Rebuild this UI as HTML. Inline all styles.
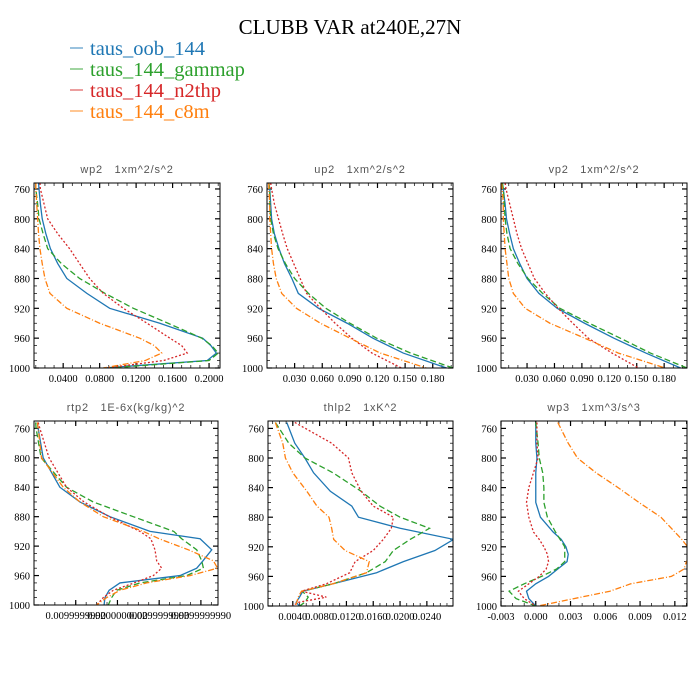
<!DOCTYPE html>
<html><head><meta charset="utf-8"><style>
body{margin:0;background:#fff;}
svg{display:block;}
.pt{white-space:pre;}
</style></head><body>
<svg id="chart" width="700" height="700" viewBox="0 0 700 700" xmlns="http://www.w3.org/2000/svg">
<text x="350" y="34" text-anchor="middle" font-family="Liberation Serif, serif" font-size="21" fill="#000">CLUBB VAR at240E,27N</text>
<g font-family="Liberation Serif, serif" font-size="20.5">
 <g><line x1="70" y1="48" x2="83" y2="48" stroke="#1f77b4" stroke-opacity="0.6" stroke-width="1.5"/><text x="90" y="55" fill="#1f77b4">taus_oob_144</text></g>
 <g><line x1="70" y1="69" x2="83" y2="69" stroke="#2ca02c" stroke-opacity="0.6" stroke-width="1.5"/><text x="90" y="76" fill="#2ca02c">taus_144_gammap</text></g>
 <g><line x1="70" y1="90" x2="83" y2="90" stroke="#d62728" stroke-opacity="0.6" stroke-width="1.5"/><text x="90" y="97" fill="#d62728">taus_144_n2thp</text></g>
 <g><line x1="70" y1="111" x2="83" y2="111" stroke="#ff7f0e" stroke-opacity="0.6" stroke-width="1.5"/><text x="90" y="118" fill="#ff7f0e">taus_144_c8m</text></g>
</g>
</svg>
<script>
// ---- data ----
const seriesNames = ['taus_oob_144','taus_144_gammap','taus_144_n2thp','taus_144_c8m'];
const panelTitles = ['wp2   1xm^2/s^2','up2   1xm^2/s^2','vp2   1xm^2/s^2','rtp2   1E-6x(kg/kg)^2','thlp2   1xK^2','wp3   1xm^3/s^3'];
const yTicks = [760,800,840,880,920,960,1000];

const p1 = [752,760,780,800,820,840,860,880,900,920,940,960,970,980,990,1000];
const wp2Blue   = [0.013,0.0135,0.015,0.017,0.021,0.026,0.034,0.044,0.066,0.091,0.146,0.193,0.202,0.208,0.198,0.084];
const wp2Green  = [0.010,0.010,0.012,0.0135,0.018,0.023,0.038,0.058,0.086,0.117,0.155,0.192,0.203,0.210,0.200,0.091];
const wp2Red    = [0.0145,0.015,0.019,0.023,0.034,0.047,0.058,0.069,0.084,0.106,0.132,0.157,0.170,0.176,0.150,0.088];
const wp2Orange = [0.010,0.010,0.011,0.012,0.013,0.0145,0.017,0.020,0.0255,0.044,0.080,0.124,0.140,0.148,0.130,0.084];
const wp2Ticks = ['0.0400','0.0800','0.1200','0.1600','0.2000'];

const p2 = [752,760,780,800,820,840,860,880,900,920,940,960,980,1000];
const up2Blue   = [0.002,0.003,0.004,0.005,0.008,0.013,0.019,0.027,0.034,0.056,0.087,0.115,0.148,0.195];
const up2Green  = [0.002,0.003,0.003,0.004,0.007,0.012,0.020,0.030,0.045,0.064,0.090,0.119,0.156,0.202];
const up2Red    = [0.004,0.005,0.008,0.0125,0.017,0.022,0.029,0.036,0.043,0.058,0.074,0.092,0.114,0.146];
const up2Orange = [0.002,0.002,0.003,0.003,0.004,0.005,0.007,0.010,0.016,0.032,0.058,0.090,0.123,0.173];
const up2Ticks = ['0.030','0.060','0.090','0.120','0.150','0.180'];

const vp2Blue   = [0.003,0.004,0.006,0.0075,0.011,0.015,0.022,0.030,0.043,0.063,0.093,0.125,0.160,0.198];
const vp2Green  = [0.003,0.004,0.005,0.006,0.008,0.0115,0.020,0.031,0.047,0.066,0.098,0.132,0.165,0.205];
const vp2Red    = [0.006,0.007,0.011,0.015,0.019,0.024,0.031,0.038,0.050,0.064,0.080,0.097,0.123,0.152];
const vp2Orange = [0.002,0.003,0.004,0.004,0.005,0.006,0.008,0.010,0.015,0.028,0.055,0.093,0.130,0.181];
const vp2Ticks = ['0.030','0.060','0.090','0.120','0.150','0.180'];

const p4 = [752,760,800,840,860,880,900,910,925,940,950,960,970,980,990,1000];
const rtp2Blue   = [0.0008,0.001,0.0022,0.0062,0.011,0.0182,0.0278,0.0398,0.0426,0.0405,0.039,0.035,0.0206,0.018,0.017,0.0168];
const rtp2Green  = [0.0004,0.0005,0.0017,0.0078,0.0142,0.0238,0.0335,0.0354,0.039,0.0402,0.0406,0.0366,0.0254,0.0198,0.0186,0.0178];
const rtp2Red    = [0.001,0.0014,0.0036,0.0078,0.012,0.018,0.0254,0.028,0.029,0.0294,0.0306,0.0286,0.024,0.019,0.0166,0.015];
const rtp2Orange = [0.0008,0.001,0.0018,0.007,0.011,0.0166,0.0262,0.030,0.037,0.043,0.044,0.0374,0.027,0.0206,0.0174,0.015];
const rtp2Ticks = ['0.0099999990','0.0200000000','0.0299999990','0.0399999990'];

const p5 = [752,780,800,820,845,865,880,895,910,925,940,955,970,980,988,995,1000];
const thlp2Blue   = [0.0031,0.0043,0.0058,0.0071,0.0096,0.0128,0.0138,0.0200,0.0280,0.0252,0.0205,0.0165,0.0100,0.0055,0.0050,0.0045,0.0050];
const thlp2Green  = [0.0014,0.0034,0.0058,0.0100,0.0142,0.0170,0.0200,0.0244,0.0215,0.0190,0.0178,0.0150,0.0100,0.0054,0.0063,0.0058,0.0050];
const thlp2Red    = [0.0043,0.0098,0.0123,0.0128,0.0142,0.0160,0.0190,0.0187,0.0175,0.0160,0.0133,0.0125,0.0090,0.0053,0.0090,0.0049,0.0039];
const thlp2Orange = [0.0014,0.0025,0.0029,0.0040,0.0061,0.0076,0.0094,0.0098,0.0101,0.0118,0.0154,0.0150,0.0100,0.0053,0.0048,0.0046,0.0044];
const thlp2Ticks = ['0.0040','0.0080','0.0120','0.0160','0.0200','0.0240'];

const p6 = [752,780,800,820,840,860,880,900,910,920,930,940,950,960,970,980,990,1000];
const wp3Blue   = [0,0,0.0001,0,0,0,0.0004,0.0015,0.0022,0.0026,0.0028,0.0027,0.0019,0.0011,0,-0.0008,-0.0006,0];
const wp3Green  = [0,0.0002,0.0003,0.0006,0.0007,0.0007,0.001,0.0017,0.0021,0.0025,0.0025,0.0025,0.0018,0.0005,-0.001,-0.0023,-0.0017,0];
const wp3Red    = [0.0001,0.0001,0.0002,-0.0002,-0.0006,-0.0008,-0.0006,-0.0002,0.0003,0.0007,0.001,0.0011,0.0009,0.0003,-0.0006,-0.0015,-0.001,0];
const wp3Orange = [0.0019,0.0028,0.0036,0.0052,0.0071,0.0089,0.0108,0.012,0.0126,0.0131,0.0135,0.0130,0.0128,0.0117,0.0082,0.0064,0.0033,0.0002];
const wp3Ticks = ['-0.003','0.000','0.003','0.006','0.009','0.012'];

// ---- layout ----
const NS='http://www.w3.org/2000/svg';
const svg=document.getElementById('chart');
const colors=['#1f77b4','#2ca02c','#d62728','#ff7f0e'];
const dashes=['', '6,3', '2,2', '6,2,1,2'];
const panels=[
 {name:'wp2',x0:34,x1:220,y0:183,y1:368,xmin:0.008,xmax:0.212,pmin:752,p:p1,s:[wp2Blue,wp2Green,wp2Red,wp2Orange],ticks:wp2Ticks,minor:0.01},
 {name:'up2',x0:267,x1:453,y0:183,y1:368,xmin:0,xmax:0.202,pmin:752,p:p2,s:[up2Blue,up2Green,up2Red,up2Orange],ticks:up2Ticks,minor:0.01},
 {name:'vp2',x0:501,x1:687,y0:183,y1:368,xmin:0.0015,xmax:0.205,pmin:752,p:p2,s:[vp2Blue,vp2Green,vp2Red,vp2Orange],ticks:vp2Ticks,minor:0.01},
 {name:'rtp2',x0:34,x1:218,y0:421,y1:605,xmin:0,xmax:0.0441,pmin:750,p:p4,s:[rtp2Blue,rtp2Green,rtp2Red,rtp2Orange],ticks:rtp2Ticks,minor:0.0025},
 {name:'thlp2',x0:268,x1:453,y0:421,y1:606,xmin:0.0003,xmax:0.0279,pmin:750,p:p5,s:[thlp2Blue,thlp2Green,thlp2Red,thlp2Orange],ticks:thlp2Ticks,minor:0.001},
 {name:'wp3',x0:501,x1:687,y0:421,y1:606,xmin:-0.003,xmax:0.01305,pmin:750,p:p6,s:[wp3Blue,wp3Green,wp3Red,wp3Orange],ticks:wp3Ticks,minor:0.001}
];
function mk(tag,attrs,parent){const e=document.createElementNS(NS,tag);for(const k in attrs)e.setAttribute(k,attrs[k]);(parent||svg).appendChild(e);return e;}

panels.forEach((pn,i)=>{
 const g=mk('g',{});
 
 
 const xs=v=>pn.x0+(v-pn.xmin)/(pn.xmax-pn.xmin)*(pn.x1-pn.x0);
 const ys=p=>pn.y0+(p-pn.pmin)/(1000-pn.pmin)*(pn.y1-pn.y0);
 const t=mk('text',{x:(pn.x0+pn.x1)/2,y:pn.y0-10,'text-anchor':'middle','font-family':'Liberation Sans, sans-serif','font-size':'11','letter-spacing':'0.8','fill':'#555','class':'pt'},g);
 t.textContent=panelTitles[i];
 
 
 const cid='clip'+i;
 const cp=mk('clipPath',{id:cid},g);mk('rect',{x:pn.x0,y:pn.y0,width:pn.x1-pn.x0,height:pn.y1-pn.y0},cp);
 for(let p=760;p<=1000;p+=10){
  const y=ys(p),major=(p-760)%40===0,L=major?5:3;
  mk('line',{x1:pn.x0,y1:y,x2:pn.x0+L,y2:y,stroke:'#000','stroke-width':major?1.2:0.7},g);
  mk('line',{x1:pn.x1,y1:y,x2:pn.x1-L,y2:y,stroke:'#000','stroke-width':major?1.2:0.7},g);
 }
 yTicks.forEach(p=>{
  const tx=mk('text',{x:pn.x0-4,y:ys(p)+4,'text-anchor':'end','font-family':'Liberation Serif, serif','font-size':'10.5',fill:'#000'},g);
  tx.textContent=p;
  
  
 });
 const mstart=Math.ceil(pn.xmin/pn.minor);
 for(let k=mstart;k*pn.minor<=pn.xmax;k++){
  const x=xs(k*pn.minor);
  mk('line',{x1:x,y1:pn.y1,x2:x,y2:pn.y1-3,stroke:'#000','stroke-width':0.7},g);
  mk('line',{x1:x,y1:pn.y0,x2:x,y2:pn.y0+3,stroke:'#000','stroke-width':0.7},g);
 }
 pn.ticks.forEach(lbl=>{
  const v=parseFloat(lbl),x=xs(v);
  mk('line',{x1:x,y1:pn.y1,x2:x,y2:pn.y1-5,stroke:'#000','stroke-width':1.2},g);
  mk('line',{x1:x,y1:pn.y0,x2:x,y2:pn.y0+5,stroke:'#000','stroke-width':1.2},g);
  const tx=mk('text',{x:x,y:pn.y1+14,'text-anchor':'middle','font-family':'Liberation Serif, serif','font-size':'10.5',fill:'#000'},g);
  tx.textContent=lbl;
  
  
 });
 pn.s.forEach((vals,j)=>{
  const d=vals.map((v,k)=>(k?'L':'M')+xs(v).toFixed(2)+','+ys(pn.p[k]).toFixed(2)).join('');
  const path=mk('path',{d:d,fill:'none',stroke:colors[j],'stroke-width':1.3,'clip-path':'url(#'+cid+')'},g);
  if(dashes[j])path.setAttribute('stroke-dasharray',dashes[j]);
  
  
 });
 const box=mk('rect',{x:pn.x0,y:pn.y0,width:pn.x1-pn.x0,height:pn.y1-pn.y0,fill:'none',stroke:'#000','stroke-width':1},g);
 
 
});
</script>
</body></html>
